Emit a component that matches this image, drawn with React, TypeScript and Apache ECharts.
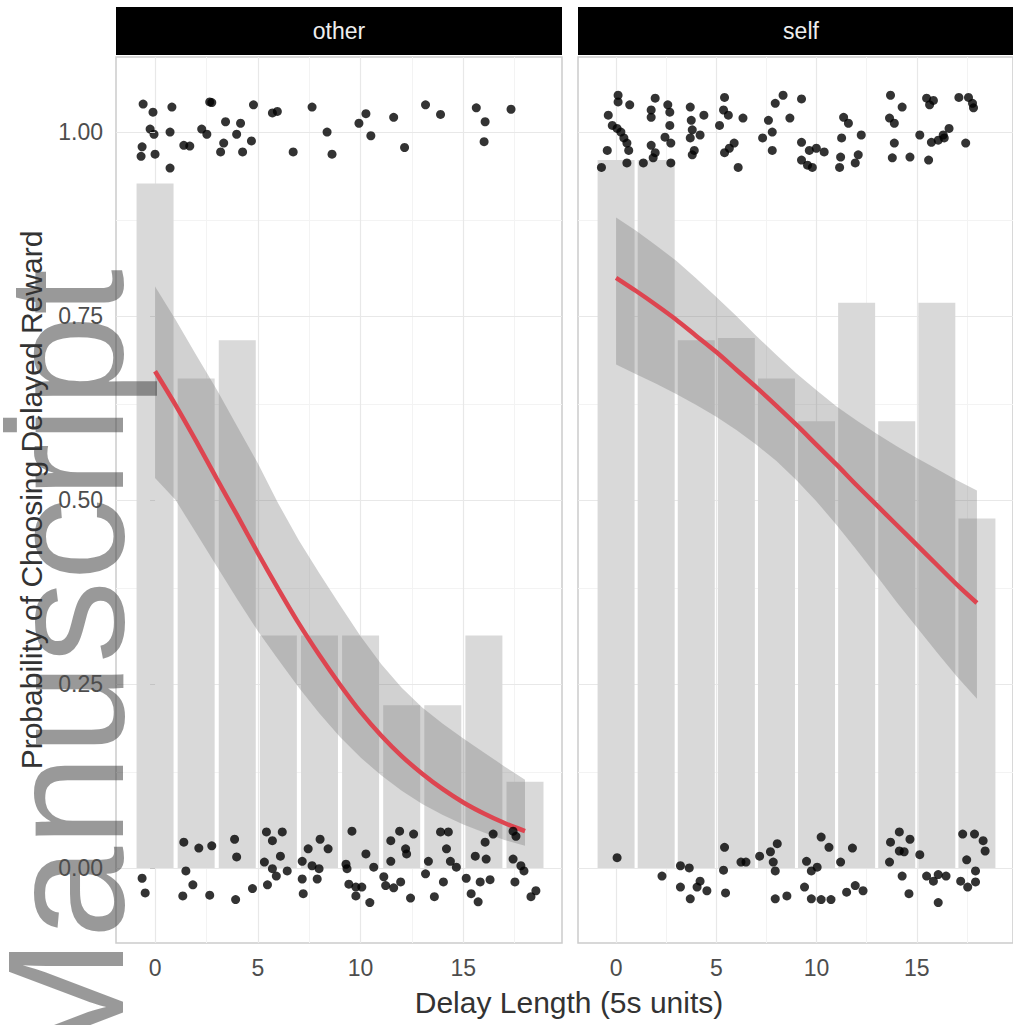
import React, { useEffect, useRef } from "react";
import * as echarts from "echarts";

// ---------- data ----------
const panels = ["other", "self"];
const delays = [0, 2, 4, 6, 8, 10, 12, 14, 16, 18];
const otherProp = [0.93, 0.665, 0.717, 0.316, 0.316, 0.316, 0.221, 0.221, 0.316, 0.117];
const selfProp = [0.962, 0.962, 0.717, 0.72, 0.665, 0.607, 0.768, 0.607, 0.768, 0.475];

const fitX = [0, 1, 2, 3, 4, 5, 6, 7, 8, 9, 10, 11, 12, 13, 14, 15, 16, 17, 18];
const otherFit = [0.675, 0.629, 0.58, 0.529, 0.479, 0.428, 0.379, 0.332, 0.289, 0.249, 0.212, 0.18, 0.152, 0.128, 0.107, 0.089, 0.074, 0.061, 0.05];
const otherUpper = [0.79, 0.745, 0.697, 0.65, 0.6, 0.55, 0.495, 0.445, 0.4, 0.357, 0.315, 0.277, 0.245, 0.218, 0.196, 0.176, 0.157, 0.138, 0.12];
const otherLower = [0.53, 0.5, 0.455, 0.41, 0.365, 0.322, 0.283, 0.245, 0.21, 0.178, 0.15, 0.126, 0.105, 0.087, 0.072, 0.059, 0.048, 0.038, 0.03];
const selfFit = [0.802, 0.784, 0.765, 0.745, 0.723, 0.701, 0.677, 0.653, 0.628, 0.602, 0.575, 0.548, 0.52, 0.493, 0.466, 0.439, 0.412, 0.385, 0.36];
const selfUpper = [0.884, 0.866, 0.846, 0.825, 0.801, 0.776, 0.75, 0.723, 0.697, 0.672, 0.649, 0.627, 0.608, 0.59, 0.573, 0.557, 0.542, 0.527, 0.513];
const selfLower = [0.684, 0.671, 0.658, 0.644, 0.629, 0.613, 0.595, 0.575, 0.553, 0.527, 0.498, 0.466, 0.432, 0.397, 0.361, 0.327, 0.293, 0.26, 0.23];

const otherPoints: [number, number][] = [
  [-0.58, 1.038], [-0.1, 1.027], [0.82, 1.034], [2.66, 1.041], [2.76, 1.04], [4.79, 1.037], [5.71, 1.026],
  [5.95, 1.028], [7.64, 1.034], [13.16, 1.037], [13.89, 1.024], [15.63, 1.033], [17.32, 1.031], [10.26, 1.025],
  [9.92, 1.012], [11.61, 1.02], [16.06, 1.014], [3.43, 1.014], [4.16, 1.012], [-0.24, 1.004], [-0.05, 0.997],
  [0.73, 1.0], [2.27, 1.004], [2.52, 0.997], [3.97, 0.997], [8.37, 1.0], [10.5, 0.995], [4.69, 0.988],
  [1.4, 0.982], [1.69, 0.981], [3.34, 0.985], [3.19, 0.973], [4.26, 0.973], [-0.63, 0.98], [-0.68, 0.967],
  [0.0, 0.97], [0.73, 0.951], [6.72, 0.973], [8.61, 0.97], [12.14, 0.979], [16.01, 0.987],
  [-0.63, -0.014], [-0.48, -0.034], [1.4, 0.035], [1.5, -0.004], [2.13, 0.027], [2.76, 0.03], [1.84, -0.023],
  [1.35, -0.038], [2.66, -0.037], [3.87, 0.039], [3.97, 0.015], [3.92, -0.043], [4.74, -0.028], [5.47, -0.023],
  [5.42, 0.049], [5.71, 0.037], [6.19, 0.049], [6.1, 0.016], [5.32, 0.008], [5.71, -0.001], [6.43, -0.004],
  [5.9, -0.011], [7.16, 0.009], [7.45, 0.026], [8.03, 0.039], [8.42, 0.026], [7.64, 0.003], [7.98, -0.001],
  [7.16, -0.015], [7.89, -0.015], [7.21, -0.035], [9.58, 0.05], [9.29, 0.005], [9.34, -0.001], [10.26, 0.019],
  [10.64, 0.001], [9.43, -0.022], [9.77, -0.026], [10.06, -0.026], [9.77, -0.038], [10.45, -0.047], [11.13, -0.012],
  [11.22, -0.024], [11.61, -0.027], [11.95, -0.019], [12.43, -0.041], [11.47, 0.037], [11.9, 0.05], [12.58, 0.046],
  [12.19, 0.026], [12.24, 0.019], [11.47, 0.009], [13.16, -0.008], [13.3, 0.009], [13.89, 0.049], [14.27, 0.049],
  [14.18, 0.026], [14.37, 0.009], [14.66, 0.001], [14.03, -0.019], [13.59, -0.039], [15.14, -0.014], [15.58, 0.016],
  [16.11, 0.012], [16.06, 0.035], [16.45, 0.046], [15.82, -0.019], [16.3, -0.016], [15.38, -0.035], [15.72, -0.046],
  [17.42, 0.05], [17.56, 0.043], [17.42, 0.012], [17.8, 0.003], [17.95, -0.004], [17.51, -0.019], [18.29, -0.039],
  [18.53, -0.031]
];

const selfPoints: [number, number][] = [
  [0.1, 1.05], [0.1, 1.041], [0.68, 1.037], [-0.39, 1.023], [-0.19, 1.009], [0.05, 1.005], [0.24, 1.0],
  [0.39, 0.992], [0.54, 0.985], [0.63, 0.975], [-0.44, 0.975], [0.54, 0.958], [-0.73, 0.952], [1.95, 1.046],
  [1.75, 1.03], [1.75, 1.02], [2.58, 1.037], [2.68, 1.027], [2.68, 1.009], [2.44, 0.993], [2.73, 0.985],
  [1.75, 0.982], [1.95, 0.972], [1.85, 0.965], [1.36, 0.958], [2.73, 0.958], [3.7, 1.034], [3.75, 1.016],
  [4.38, 1.023], [3.8, 1.003], [3.7, 0.992], [4.19, 0.996], [3.9, 0.975], [3.8, 0.969], [5.41, 1.047],
  [5.36, 1.03], [5.6, 1.023], [5.16, 1.009], [6.33, 1.019], [5.89, 0.985], [5.65, 0.978], [5.41, 0.972],
  [6.09, 0.952], [8.33, 1.05], [7.94, 1.039], [9.25, 1.045], [8.67, 1.019], [7.6, 1.016], [7.79, 1.0],
  [7.31, 0.992], [7.79, 0.975], [9.25, 0.986], [9.64, 0.975], [9.99, 0.978], [10.38, 0.973], [9.25, 0.962],
  [9.55, 0.955], [9.79, 0.952], [11.2, 0.966], [11.15, 0.952], [11.35, 1.02], [11.59, 1.012], [11.25, 0.992],
  [12.23, 0.996], [12.08, 0.969], [11.93, 0.958], [13.69, 1.05], [14.27, 1.034], [13.64, 1.019], [13.88, 1.012],
  [13.88, 0.985], [13.78, 0.965], [14.66, 0.966], [15.15, 0.996], [15.49, 1.046], [15.83, 1.043], [15.64, 1.037],
  [15.59, 0.962], [15.73, 0.986], [16.07, 0.989], [16.32, 0.996], [16.61, 1.005], [16.37, 0.992], [17.44, 0.985],
  [17.1, 1.047], [17.58, 1.047], [17.78, 1.039], [17.83, 1.033],
  [0.05, 0.014], [2.29, -0.011], [3.21, 0.003], [3.65, 0.0], [3.21, -0.026], [3.7, -0.042], [4.19, -0.018],
  [4.04, -0.026], [4.53, -0.031], [5.41, 0.028], [5.36, -0.003], [5.46, -0.034], [6.23, 0.008], [6.48, 0.008],
  [7.16, 0.016], [7.7, 0.022], [8.04, 0.033], [7.84, 0.008], [7.94, -0.004], [7.94, -0.042], [8.52, -0.038],
  [9.5, 0.009], [9.74, -0.004], [10.03, 0.001], [9.4, -0.026], [9.74, -0.042], [10.23, -0.043], [10.72, -0.043],
  [10.23, 0.042], [10.62, 0.028], [11.2, 0.008], [11.79, 0.027], [11.5, -0.033], [11.93, -0.024], [12.32, -0.031],
  [14.13, 0.049], [13.69, 0.035], [14.13, 0.023], [14.37, 0.022], [14.66, 0.039], [13.64, 0.008], [15.15, 0.018],
  [14.27, -0.011], [14.61, -0.035], [15.49, -0.011], [15.83, -0.018], [16.07, -0.009], [16.46, -0.011], [16.07, -0.047],
  [17.29, 0.046], [17.88, 0.046], [18.31, 0.037], [18.41, 0.023], [17.49, 0.011], [17.93, -0.004], [17.19, -0.018],
  [17.54, -0.026], [17.93, -0.019]
];

const xTicks = [0, 5, 10, 15];
const xMinor = [2.5, 7.5, 12.5, 17.5];
const yTicks = [0, 0.25, 0.5, 0.75, 1];
const yMinor = [0.125, 0.375, 0.625, 0.875];

const xTitle = "Delay Length (5s units)";
const yTitle = "Probability of Choosing Delayed Reward";
const watermark = "Manuscript";

const FONT = '"Liberation Sans", Arial, Helvetica, sans-serif';

export default function App() {
  const ref = useRef<HTMLDivElement>(null);

  useEffect(() => {
    if (!ref.current) return;
    const chart = echarts.init(ref.current, undefined, { renderer: "svg" });

    const gridTop = 57;
    const gridHeight = 886;
    const gridLefts = [116, 578];
    const gridWidth = 446;
    const xMin = -1.9;
    const xMax = 19.8;
    const yMin = -0.102;
    const yMax = 1.102;

    const props = [otherProp, selfProp];
    const fits = [otherFit, selfFit];
    const uppers = [otherUpper, selfUpper];
    const lowers = [otherLower, selfLower];
    const pts = [otherPoints, selfPoints];

    const gridLines = [
      ...xMinor.map((v) => ({ xAxis: v, lineStyle: { color: "#f3f3f3", width: 1 } })),
      ...yMinor.map((v) => ({ yAxis: v, lineStyle: { color: "#f3f3f3", width: 1 } })),
      ...xTicks.map((v) => ({ xAxis: v, lineStyle: { color: "#e8e8e8", width: 1.2 } })),
      ...yTicks.map((v) => ({ yAxis: v, lineStyle: { color: "#e8e8e8", width: 1.2 } })),
    ];

    const series: any[] = [];
    panels.forEach((_, i) => {
      series.push({
        type: "bar",
        xAxisIndex: i,
        yAxisIndex: i,
        data: delays.map((d, k) => [d, props[i][k]]),
        barWidth: 37,
        itemStyle: { color: "#d9d9d9" },
        z: 2,
        silent: true,
        markLine: {
          silent: true,
          z: 1,
          symbol: ["none", "none"],
          label: { show: false },
          lineStyle: { type: "solid" },
          data: gridLines,
        },
      });
      const up = uppers[i];
      const lo = lowers[i];
      series.push({
        type: "custom",
        xAxisIndex: i,
        yAxisIndex: i,
        z: 3,
        silent: true,
        data: [[fitX[0], lo[0]]],
        renderItem: (_p: any, api: any) => {
          const points: number[][] = [];
          fitX.forEach((x, k) => points.push(api.coord([x, up[k]])));
          for (let k = fitX.length - 1; k >= 0; k--) points.push(api.coord([fitX[k], lo[k]]));
          return {
            type: "polygon",
            shape: { points },
            style: { fill: "rgba(115,115,115,0.33)" },
          };
        },
      });
      series.push({
        type: "line",
        xAxisIndex: i,
        yAxisIndex: i,
        data: fitX.map((x, k) => [x, fits[i][k]]),
        smooth: 0.3,
        symbol: "none",
        lineStyle: { color: "#dd4550", width: 4.5 },
        z: 4,
        silent: true,
      });
      series.push({
        type: "scatter",
        xAxisIndex: i,
        yAxisIndex: i,
        data: pts[i],
        symbolSize: 9,
        itemStyle: { color: "#000000" },
        z: 5,
        silent: true,
      });
    });

    const option: any = {
      animation: false,
      backgroundColor: "#ffffff",
      grid: gridLefts.map((l) => ({
        left: l,
        top: gridTop,
        width: gridWidth,
        height: gridHeight,
        show: true,
        backgroundColor: "#ffffff",
        borderColor: "#cccccc",
        borderWidth: 1.5,
      })),
      xAxis: panels.map((_, i) => ({
        type: "value",
        gridIndex: i,
        min: xMin,
        max: xMax,
        axisLine: { show: false },
        splitLine: { show: false },
        axisTick: { show: true, customValues: xTicks, length: 5, lineStyle: { color: "#c4c4c4" } },
        axisLabel: {
          customValues: xTicks,
          color: "#4d4d4d",
          fontSize: 23,
          fontFamily: FONT,
          margin: 13,
        },
      })),
      yAxis: panels.map((_, i) => ({
        type: "value",
        gridIndex: i,
        min: yMin,
        max: yMax,
        z: 20,
        axisLine: { show: false },
        splitLine: { show: false },
        axisTick: { show: i === 0, customValues: yTicks, length: 5, lineStyle: { color: "#c4c4c4" } },
        axisLabel: {
          show: i === 0,
          customValues: yTicks,
          formatter: (v: number) => v.toFixed(2),
          color: "#4d4d4d",
          fontSize: 23,
          fontFamily: FONT,
          margin: 13,
        },
      })),
      graphic: [
        ...panels.map((name, i) => ({
          type: "group",
          z: 6,
          children: [
            {
              type: "rect",
              shape: { x: gridLefts[i], y: 7, width: gridWidth, height: 48 },
              style: { fill: "#000000" },
            },
            {
              type: "text",
              x: gridLefts[i] + gridWidth / 2,
              y: 31,
              style: {
                text: name,
                fill: "#eeeeee",
                font: `23px ${FONT}`,
                textAlign: "center",
                textVerticalAlign: "middle",
                align: "center",
                verticalAlign: "middle",
              },
            },
          ],
        })),
        {
          type: "text",
          z: 10,
          x: 66,
          y: 1076,
          rotation: Math.PI / 2,
          silent: true,
          style: {
            text: watermark,
            fill: "rgba(60,60,60,0.52)",
            font: `165px ${FONT}`,
            textAlign: "left",
            textVerticalAlign: "middle",
            align: "left",
            verticalAlign: "middle",
          },
        },
        {
          type: "text",
          z: 30,
          x: 31,
          y: 500,
          rotation: Math.PI / 2,
          style: {
            text: yTitle,
            fill: "#333333",
            font: `30px ${FONT}`,
            textAlign: "center",
            textVerticalAlign: "middle",
            align: "center",
            verticalAlign: "middle",
          },
        },
        {
          type: "text",
          z: 30,
          x: 569,
          y: 1002,
          style: {
            text: xTitle,
            fill: "#333333",
            font: `30px ${FONT}`,
            textAlign: "center",
            textVerticalAlign: "middle",
            align: "center",
            verticalAlign: "middle",
          },
        },
      ],
      series,
    };

    chart.setOption(option);
    return () => chart.dispose();
  }, []);

  return (
    <div
      ref={ref}
      style={{ position: "absolute", left: 0, top: 0, width: 1013, height: 1025, background: "#fff" }}
    />
  );
}
